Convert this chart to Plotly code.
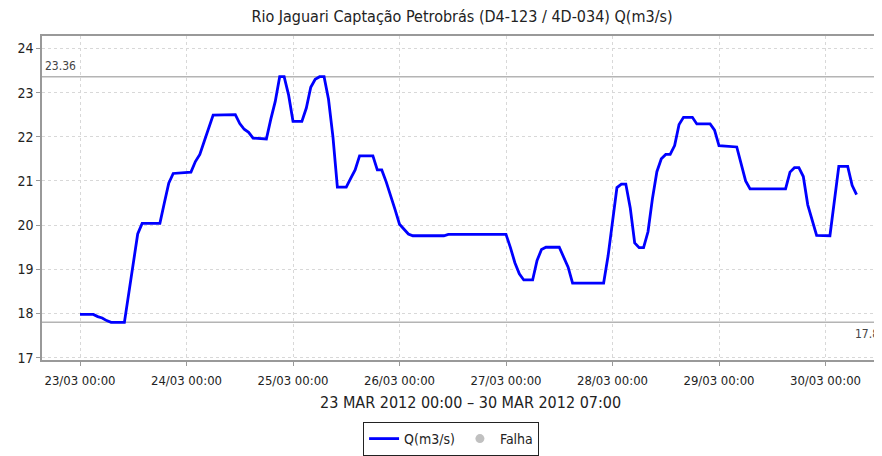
import pandas as pd
import plotly.graph_objects as go

# ---- data ----
start_time = "2012-03-23 00:00"
hours = [0, 3, 4, 5, 6, 7, 10, 11, 12, 13, 14, 18, 19, 20, 21, 25, 26, 27, 28, 29,
         30, 35, 36, 37, 38, 39, 42, 43, 44, 45, 46, 47, 48, 50, 51, 52, 53, 54, 55, 56,
         57, 58, 60, 61, 62, 63, 66, 67, 68, 69, 70, 71, 72, 73, 74, 75, 82, 83, 96, 97,
         98, 99, 100, 102, 103, 104, 105, 108, 109, 110, 111, 118, 119, 120, 121, 122, 123, 124, 125, 126,
         127, 128, 129, 130, 131, 132, 133, 134, 135, 136, 138, 139, 142, 143, 144, 148, 149, 150, 151, 159,
         160, 161, 162, 163, 164, 165, 166, 169, 170, 171, 173, 174, 175]
flow = [17.98, 17.98, 17.93, 17.90, 17.84, 17.80, 17.80, 18.50, 19.20, 19.80, 20.04, 20.04, 20.50, 20.95, 21.17, 21.20, 21.44, 21.60, 21.90, 22.20,
        22.49, 22.50, 22.30, 22.17, 22.10, 21.97, 21.95, 22.40, 22.80, 23.36, 23.36, 22.95, 22.35, 22.35, 22.65, 23.12, 23.30, 23.36, 23.36, 22.85,
        22.00, 20.86, 20.86, 21.06, 21.25, 21.57, 21.57, 21.25, 21.25, 20.98, 20.68, 20.35, 20.02, 19.90, 19.80, 19.76, 19.76, 19.79, 19.79, 19.49,
        19.15, 18.90, 18.76, 18.76, 19.20, 19.45, 19.50, 19.50, 19.27, 19.05, 18.69, 18.69, 19.30, 20.10, 20.85, 20.93, 20.93, 20.39, 19.60, 19.49,
        19.49, 19.85, 20.60, 21.21, 21.50, 21.60, 21.60, 21.80, 22.28, 22.44, 22.44, 22.29, 22.29, 22.15, 21.80, 21.77, 21.35, 21.00, 20.82, 20.82,
        21.20, 21.30, 21.30, 21.10, 20.46, 20.10, 19.77, 19.76, 20.60, 21.33, 21.33, 20.90, 20.69]
marker_values = [23.36, 17.8]
marker_labels = ["23.36", "17.8"]
y_ticks = [17, 18, 19, 20, 21, 22, 23, 24]
x_tick_days = pd.date_range("2012-03-23", "2012-03-30", freq="D")

times = pd.Timestamp(start_time) + pd.to_timedelta(hours, unit="h")

FONT = "DejaVu Sans Condensed, DejaVu Sans, sans-serif"

fig = go.Figure()
fig.add_trace(go.Scatter(x=times, y=flow, mode="lines", name="Q(m3/s)",
                         line=dict(color="#0000FF", width=2.8)))
fig.add_trace(go.Scatter(x=[None], y=[None], mode="markers", name="Falha",
                         marker=dict(color="#C0C0C0", size=9)))

for v in marker_values:
    fig.add_shape(type="line", xref="paper", x0=0, x1=1, yref="y", y0=v, y1=v,
                  line=dict(color="#B4B4B4", width=1.5), layer="below")

fig.add_annotation(xref="paper", x=0, yref="y", y=marker_values[0], text=marker_labels[0],
                   showarrow=False, xanchor="left", yanchor="bottom", xshift=1, yshift=2,
                   font=dict(family=FONT, size=12, color="#444444"))
fig.add_annotation(xref="paper", x=1, yref="y", y=marker_values[1], text=marker_labels[1],
                   showarrow=False, xanchor="right", yanchor="top", xshift=-1, yshift=-3,
                   font=dict(family=FONT, size=12, color="#444444"))

fig.add_annotation(xref="paper", x=0.51, yref="paper", y=-0.095, yanchor="top",
                   text="23 MAR 2012 00:00 \u2013 30 MAR 2012 07:00", showarrow=False,
                   font=dict(family=FONT, size=16, color="#222222"))

# the page body adds an 8px offset; the figure is sized so the plot area lands at the reference spot
fig.update_layout(
    width=874, height=448,
    margin=dict(l=34, r=0, t=28, b=92),
    paper_bgcolor="white", plot_bgcolor="white",
    title=dict(text="Rio Jaguari Captação Petrobrás (D4-123 / 4D-034) Q(m3/s)",
               x=0.5, xref="paper", xanchor="center", y=1, yref="container", yanchor="top", pad=dict(t=3),
               font=dict(family=FONT, size=16, color="#222222")),
    showlegend=True,
    legend=dict(orientation="h", x=0.487, xanchor="center", y=-0.192, yanchor="top",
                bordercolor="#222222", borderwidth=1, itemwidth=30,
                tracegroupgap=0, itemclick=False,
                font=dict(family=FONT, size=14, color="#222222")),
    xaxis=dict(type="date", automargin=False,
               range=["2012-03-22 15:26", "2012-03-30 12:44"],
               tickvals=x_tick_days, tickformat="%d/%m %H:%M",
               showgrid=True, gridcolor="#D8D8D8", griddash="3px,3px", gridwidth=1,
               showline=True, linecolor="#999999", linewidth=1.5, mirror=True,
               ticks="outside", ticklen=4, tickcolor="#999999", ticklabelstandoff=4,
               tickfont=dict(family=FONT, size=13, color="#222222"), zeroline=False),
    yaxis=dict(range=[16.948, 24.281], tickvals=y_ticks, automargin=False,
               showgrid=True, gridcolor="#D8D8D8", griddash="3px,3px", gridwidth=1,
               showline=True, linecolor="#999999", linewidth=1.5,
               ticks="outside", ticklen=4, tickcolor="#999999",
               tickfont=dict(family=FONT, size=14, color="#222222"), zeroline=False),
)

fig.write_html("out.html")
